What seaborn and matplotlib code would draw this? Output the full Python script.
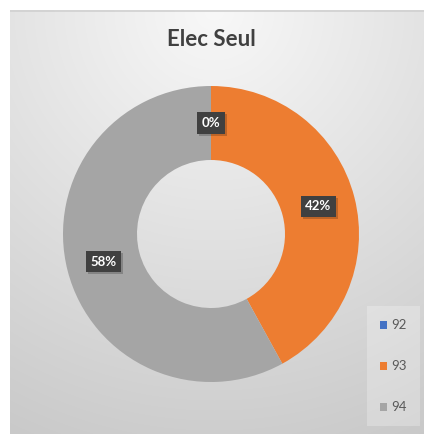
import numpy as np
import matplotlib
matplotlib.use("Agg")
import matplotlib.pyplot as plt
import matplotlib.patheffects as pe
from matplotlib.patches import Patch
import seaborn as sns

# ---- data ----
categories = ["92", "93", "94"]
values = [0, 42, 58]
pct_labels = ["0%", "42%", "58%"]
title = "Elec Seul"

sns.set_theme(style="white")
plt.rcParams["font.family"] = ["Lato", "DejaVu Sans"]
colors = ["#4472C4", "#ED7D31", "#A5A5A5"]

W, H = 428, 434
fig = plt.figure(figsize=(W / 100, H / 100), dpi=100)
fig.patch.set_facecolor("white")

# background panel with radial gradient
bg = fig.add_axes([10 / W, 0, 414 / W, 424 / H])
bg.set_axis_off()
yy, xx = np.mgrid[0:424, 0:414]
d = np.sqrt((xx - 204) ** 2 + (yy - 0) ** 2)
g = np.clip(248 - 0.1 * d, 188, 250) / 255.0
img = np.dstack([g, g, g])
bg.imshow(img, aspect="auto", extent=[0, 414, 424, 0], interpolation="bilinear")
bg.set_xlim(0, 414)
bg.set_ylim(424, 0)
bg.plot([0, 414], [0.8, 0.8], color="#d0d0d0", lw=1.2)

# donut
cx, cy, R = 211, 234, 148
ax = fig.add_axes([(cx - R) / W, (H - cy - R) / H, 2 * R / W, 2 * R / H])
ax.set_axis_off()
wedges, _ = ax.pie(values, colors=colors, startangle=90, counterclock=False,
                   radius=1.0, wedgeprops=dict(width=0.5, edgecolor="none"))
ax.set_xlim(-1, 1)
ax.set_ylim(-1, 1)

# data labels at middle of ring
total = sum(values)
cum = 0
for v, lab in zip(values, pct_labels):
    mid = 90 - (cum + v / 2) / total * 360
    cum += v
    r = 0.75
    x, y = r * np.cos(np.radians(mid)), r * np.sin(np.radians(mid))
    t = ax.text(x, y, lab, ha="center", va="center", color="white",
                fontsize=9.5, fontweight="bold",
                bbox=dict(boxstyle="square,pad=0.35", facecolor="#404040",
                          edgecolor="none"))
    t.get_bbox_patch().set_path_effects(
        [pe.withSimplePatchShadow(offset=(1.5, -1.5), shadow_rgbFace="black", alpha=0.2),
         pe.Normal()])

fig.text(211 / W, 1 - 40 / H, title, ha="center", va="center",
         fontsize=16, fontweight="bold", color="#404040")

handles = [Patch(facecolor=c, edgecolor="none") for c in colors]
leg = fig.legend(handles, categories, loc="upper left",
                 bbox_to_anchor=(367 / W, 1 - 306 / H),
                 frameon=True, fontsize=9.5, labelcolor="#595959",
                 handlelength=0.55, handleheight=0.55, handletextpad=0.3,
                 labelspacing=2.2, borderpad=1.0, borderaxespad=0,
                 fancybox=False)
leg.get_frame().set_facecolor("white")
leg.get_frame().set_alpha(0.25)
leg.get_frame().set_edgecolor("none")

fig.savefig("out.png", dpi=100, facecolor="white")
